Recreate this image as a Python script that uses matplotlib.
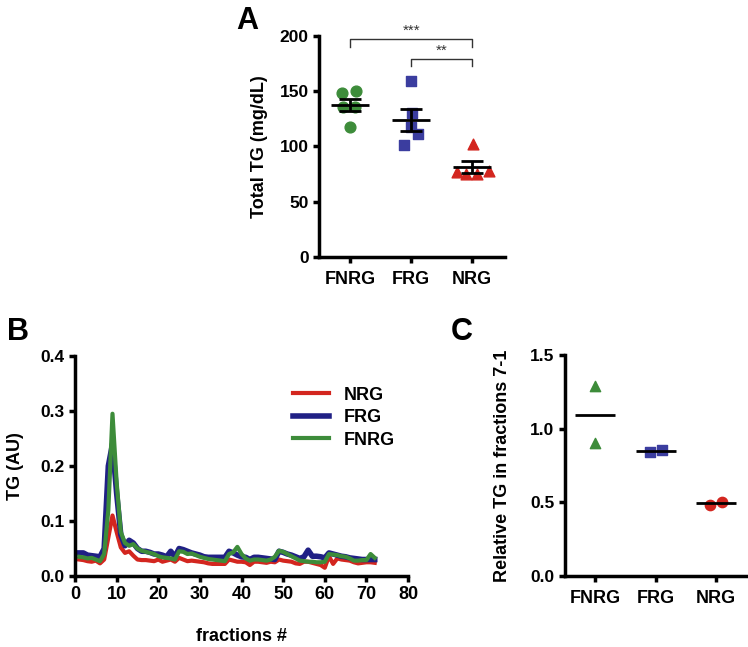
import numpy as np
import matplotlib
matplotlib.use('Agg')
import matplotlib.pyplot as plt

plt.rcParams['font.family'] = 'Liberation Sans'
plt.rcParams['font.weight'] = 'bold'

# panel A: total TG per mouse
groups = ['FNRG', 'FRG', 'NRG']
tg_fnrg = [148, 150, 136, 136, 118]
tg_frg = [159, 130, 118, 111, 101]
tg_nrg = [102, 77, 75, 75.5, 78]
jit_fnrg = [-0.13, 0.10, -0.12, 0.08, 0.0]
jit_frg = [0.0, 0.02, 0.0, 0.12, -0.12]
jit_nrg = [0.02, -0.24, -0.10, 0.08, 0.27]

# panel B: TG profile over fractions
fractions = np.arange(1, 73)
nrg_profile = [0.030, 0.029, 0.027, 0.026, 0.028, 0.023, 0.030, 0.070, 0.110, 0.080,
               0.052, 0.042, 0.045, 0.037, 0.030, 0.029, 0.029, 0.028, 0.027, 0.030,
               0.026, 0.028, 0.030, 0.026, 0.033, 0.030, 0.027, 0.028, 0.027, 0.026,
               0.025, 0.023, 0.022, 0.022, 0.022, 0.022, 0.030, 0.028, 0.026, 0.026,
               0.025, 0.020, 0.026, 0.026, 0.025, 0.024, 0.026, 0.025, 0.030, 0.028,
               0.027, 0.026, 0.023, 0.022, 0.026, 0.026, 0.024, 0.022, 0.020, 0.015,
               0.036, 0.022, 0.032, 0.030, 0.029, 0.028, 0.025, 0.023, 0.024, 0.025,
               0.025, 0.024]
frg_profile = [0.042, 0.042, 0.038, 0.037, 0.036, 0.035, 0.050, 0.200, 0.240, 0.150,
               0.075, 0.055, 0.065, 0.060, 0.050, 0.045, 0.045, 0.043, 0.040, 0.040,
               0.038, 0.035, 0.045, 0.035, 0.050, 0.048, 0.045, 0.042, 0.040, 0.038,
               0.035, 0.034, 0.034, 0.034, 0.034, 0.034, 0.045, 0.042, 0.038, 0.035,
               0.034, 0.030, 0.034, 0.034, 0.033, 0.032, 0.031, 0.030, 0.045, 0.043,
               0.040, 0.038, 0.035, 0.032, 0.035, 0.047, 0.036, 0.036, 0.035, 0.033,
               0.042, 0.040, 0.038, 0.036, 0.035, 0.033, 0.032, 0.031, 0.030, 0.030,
               0.030, 0.030]
fnrg_profile = [0.035, 0.034, 0.032, 0.033, 0.030, 0.027, 0.040, 0.120, 0.295, 0.170,
                0.080, 0.060, 0.055, 0.058, 0.050, 0.046, 0.044, 0.042, 0.040, 0.036,
                0.034, 0.033, 0.032, 0.030, 0.045, 0.044, 0.040, 0.041, 0.038, 0.035,
                0.033, 0.031, 0.030, 0.029, 0.028, 0.027, 0.040, 0.043, 0.053, 0.040,
                0.032, 0.028, 0.030, 0.030, 0.029, 0.028, 0.030, 0.035, 0.046, 0.044,
                0.040, 0.036, 0.032, 0.028, 0.027, 0.026, 0.026, 0.025, 0.025, 0.026,
                0.040, 0.039, 0.038, 0.036, 0.035, 0.032, 0.028, 0.028, 0.029, 0.029,
                0.040, 0.033]

# panel C: relative TG in fractions 7-1
rel_fnrg = [1.29, 0.90]
rel_frg = [0.845, 0.855]
rel_nrg = [0.485, 0.505]
jit_c_fnrg = [0.0, 0.0]
jit_c_frg = [-0.1, 0.1]
jit_c_nrg = [-0.1, 0.1]

green = '#3d8c3a'
blue = '#3b3d9f'
navy = '#202085'
red = '#d3261f'


def style_axes(ax, ysize=12.5, xsize=13):
    ax.spines['top'].set_visible(False)
    ax.spines['right'].set_visible(False)
    for s in ['left', 'bottom']:
        ax.spines[s].set_linewidth(2.5)
    ax.tick_params(direction='out', length=4, width=2.5)
    ax.tick_params(axis='y', labelsize=ysize)
    ax.tick_params(axis='x', labelsize=xsize)
    for lab in ax.get_xticklabels() + ax.get_yticklabels():
        lab.set_fontweight('bold')


fig = plt.figure(figsize=(7.48, 6.47), dpi=100)

# ---- A ----
axA = fig.add_axes([0.4265, 0.6028, 0.2487, 0.3416])
sets = [(tg_fnrg, jit_fnrg, green, 'o'), (tg_frg, jit_frg, blue, 's'), (tg_nrg, jit_nrg, red, '^')]
for i, (vals, jit, col, mk) in enumerate(sets):
    xs = i + np.array(jit)
    axA.scatter(xs, vals, s=60, marker=mk, color=col, zorder=2, clip_on=False)
    m = np.mean(vals)
    sem = np.std(vals, ddof=1) / np.sqrt(len(vals))
    axA.hlines(m, i - 0.31, i + 0.31, color='black', lw=2, zorder=3)
    axA.errorbar(i, m, yerr=sem, fmt='none', ecolor='black', elinewidth=2,
                 capsize=8, capthick=2, zorder=3)
axA.set_xlim(-0.51, 2.54)
axA.set_ylim(0, 200)
axA.set_yticks([0, 50, 100, 150, 200])
axA.set_xticks(range(3))
axA.set_xticklabels(groups)
axA.set_ylabel('Total TG (mg/dL)', fontsize=13, fontweight='bold', labelpad=8)
style_axes(axA)
axA.tick_params(axis='x', pad=6)

# significance brackets
axA.plot([0, 0, 2, 2], [190, 197, 197, 190], color='#333333', lw=1, clip_on=False)
axA.text(1, 198, '***', ha='center', va='bottom', fontsize=11, fontweight='normal', color='#333333')
axA.plot([1, 1, 2, 2], [173, 179, 179, 173], color='#333333', lw=1, clip_on=False)
axA.text(1.5, 180, '**', ha='center', va='bottom', fontsize=11, fontweight='normal', color='#333333')

# ---- B ----
axB = fig.add_axes([0.1003, 0.1097, 0.4452, 0.3401])
axB.plot(fractions, nrg_profile, color=red, lw=3, label='NRG')
axB.plot(fractions, frg_profile, color=navy, lw=4, label='FRG')
axB.plot(fractions, fnrg_profile, color=green, lw=3, label='FNRG')
axB.set_xlim(0, 80)
axB.set_ylim(0, 0.4)
axB.set_xticks(range(0, 81, 10))
axB.set_yticks([0.0, 0.1, 0.2, 0.3, 0.4])
axB.set_ylabel('TG (AU)', fontsize=13, fontweight='bold', labelpad=12)
axB.set_xlabel('fractions #', fontsize=13, fontweight='bold', labelpad=18)
style_axes(axB)
axB.legend(loc='upper left', bbox_to_anchor=(0.655, 0.86), frameon=False,
           prop={'weight': 'bold', 'size': 13}, handlelength=2.0,
           labelspacing=0.3, borderaxespad=0, borderpad=0)

# ---- C ----
axC = fig.add_axes([0.7553, 0.1097, 0.2433, 0.3416])
setsC = [(rel_fnrg, jit_c_fnrg, green, '^'), (rel_frg, jit_c_frg, blue, 's'), (rel_nrg, jit_c_nrg, red, 'o')]
for i, (vals, jit, col, mk) in enumerate(setsC):
    xs = i + np.array(jit)
    axC.scatter(xs, vals, s=55, marker=mk, color=col, zorder=2)
    axC.hlines(np.mean(vals), i - 0.33, i + 0.33, color='black', lw=2, zorder=3)
axC.set_xlim(-0.5, 2.51)
axC.set_ylim(0, 1.5)
axC.set_yticks([0.0, 0.5, 1.0, 1.5])
axC.set_xticks(range(3))
axC.set_xticklabels(groups)
axC.set_ylabel('Relative TG in fractions 7-1', fontsize=13, fontweight='bold', labelpad=14)
style_axes(axC)
axC.tick_params(axis='x', pad=6)

# panel letters
fig.text(0.316, 0.945, 'A', fontsize=22, fontweight='bold', ha='left', va='bottom')
fig.text(0.010, 0.464, 'B', fontsize=22, fontweight='bold', ha='left', va='bottom')
fig.text(0.603, 0.464, 'C', fontsize=22, fontweight='bold', ha='left', va='bottom')

fig.savefig('out.png', dpi=100)
